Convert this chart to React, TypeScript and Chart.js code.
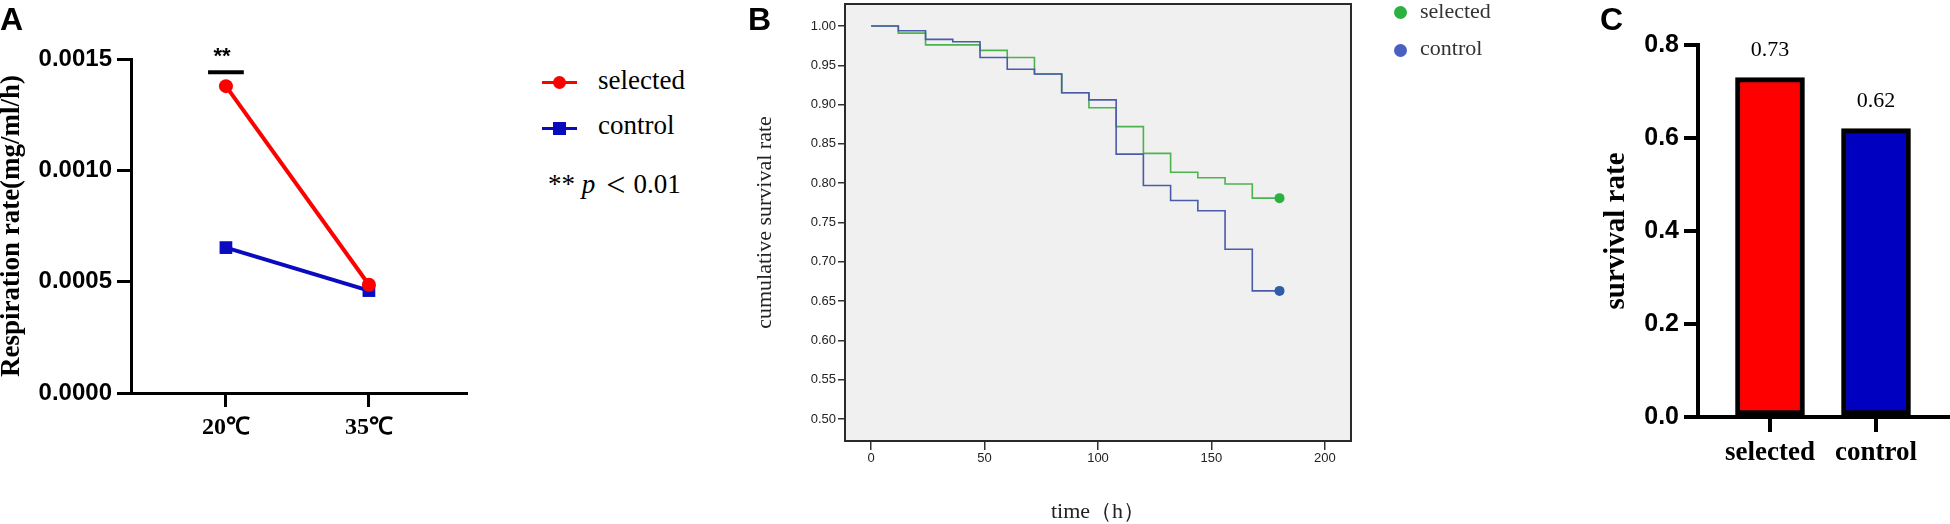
import { useEffect, useRef } from "react";
import { Chart, registerables } from "chart.js";
Chart.register(...registerables);

const SERIF = '"Liberation Serif", "Times New Roman", serif';
const SANS = '"Liberation Sans", Arial, sans-serif';

// panel A: respiration rate
const tempLabels = ["20℃", "35℃"];
const selectedRate = [0.001378, 0.000486];
const controlRate = [0.000653, 0.00046];
const rateTicks = [0, 0.0005, 0.001, 0.0015];
const sigMark = "**";
const sigLevel = 0.00144;

// panel B: Kaplan-Meier survival
const hours = [0, 12, 24, 36, 48, 60, 72, 84, 96, 108, 120, 132, 144, 156, 168, 180];
const selectedSurv = [1.0, 0.991, 0.976, 0.976, 0.969, 0.96, 0.939, 0.915, 0.896, 0.872, 0.838, 0.814, 0.807, 0.799, 0.781, 0.781];
const controlSurv = [1.0, 0.994, 0.983, 0.98, 0.96, 0.945, 0.939, 0.915, 0.906, 0.837, 0.797, 0.778, 0.765, 0.716, 0.663, 0.663];
const survTicks = [0.5, 0.55, 0.6, 0.65, 0.7, 0.75, 0.8, 0.85, 0.9, 0.95, 1.0];
const hourTicks = [0, 50, 100, 150, 200];

// panel C: final survival
const groups = ["selected", "control"];
const survivalRate = [0.73, 0.62];
const barTicks = [0, 0.2, 0.4, 0.6, 0.8];

const RED = "#ff0000";
const BLUE = "#0a0ac0";

function useChart(make: (ctx: CanvasRenderingContext2D) => Chart) {
  const ref = useRef<HTMLCanvasElement | null>(null);
  useEffect(() => {
    if (!ref.current) return;
    const ctx = ref.current.getContext("2d");
    if (!ctx) return;
    const chart = make(ctx);
    return () => chart.destroy();
  }, []);
  return ref;
}

function RespirationChart() {
  const ref = useChart((ctx) =>
    new Chart(ctx, {
      type: "line",
      data: {
        datasets: [
          {
            label: "selected",
            data: selectedRate.map((y, i) => ({ x: i, y })),
            borderColor: RED,
            backgroundColor: RED,
            borderWidth: 4,
            pointStyle: "circle",
            pointRadius: 7,
            pointBorderWidth: 0,
          },
          {
            label: "control",
            data: controlRate.map((y, i) => ({ x: i, y })),
            borderColor: BLUE,
            backgroundColor: BLUE,
            borderWidth: 4,
            pointStyle: "rect",
            pointRadius: 9,
            pointBorderWidth: 0,
          },
        ],
      },
      options: {
        responsive: false,
        animation: false,
        layout: { padding: { top: 59, right: 14, left: 0, bottom: 0 } },
        plugins: { legend: { display: false }, tooltip: { enabled: false } },
        scales: {
          x: {
            type: "linear",
            min: -0.664,
            max: 1.679,
            afterBuildTicks: (s: any) => { s.ticks = tempLabels.map((_, i) => ({ value: i })); },
            afterFit: (s: any) => { s.height = 131; },
            ticks: {
              callback: (v: any) => tempLabels[v] ?? "",
              font: { family: SERIF, size: 24, weight: "bold" },
              color: "#000",
              padding: 6,
              maxRotation: 0,
            },
            grid: { drawOnChartArea: false, tickLength: 14, lineWidth: 3, color: "#000" },
            border: { display: true, width: 3, color: "#000" },
          },
          y: {
            min: 0,
            max: 0.0015,
            afterBuildTicks: (s: any) => { s.ticks = rateTicks.map((value) => ({ value })); },
            afterFit: (s: any) => { s.width = 131; },
            ticks: {
              callback: (v: any) => Number(v).toFixed(4),
              font: { family: SANS, size: 24, weight: "bold" },
              color: "#000",
              padding: 5,
            },
            grid: { drawOnChartArea: false, tickLength: 14, lineWidth: 3, color: "#000" },
            border: { display: true, width: 3, color: "#000" },
            title: {
              display: true,
              text: "Respiration rate(mg/ml/h)",
              font: { family: SERIF, size: 27, weight: "bold", lineHeight: 1 },
              color: "#000",
              padding: { top: -1, bottom: 0 },
            },
          },
        },
      },
      plugins: [
        {
          id: "sigBar",
          afterDraw(chart: any) {
            const c = chart.ctx;
            const x = chart.scales.x;
            const y = chart.scales.y.getPixelForValue(sigLevel);
            const x0 = x.getPixelForValue(-0.125);
            const x1 = x.getPixelForValue(0.125);
            c.save();
            c.strokeStyle = "#000";
            c.lineWidth = 4;
            c.beginPath();
            c.moveTo(x0, y);
            c.lineTo(x1, y);
            c.stroke();
            c.fillStyle = "#000";
            c.font = `bold 22px ${SANS}`;
            c.textAlign = "center";
            c.textBaseline = "middle";
            c.fillText(sigMark, x.getPixelForValue(0) - 4, y - 15);
            c.restore();
          },
        },
      ],
    } as any)
  );
  return <canvas ref={ref} width={480} height={524} style={{ position: "absolute", left: 0, top: 0 }} />;
}

function SurvivalCurve() {
  const last = hours.length - 1;
  const ref = useChart((ctx) =>
    new Chart(ctx, {
      type: "line",
      data: {
        datasets: [
          {
            label: "control",
            data: controlSurv.map((y, i) => ({ x: hours[i], y })),
            borderColor: "#4a5bab",
            backgroundColor: "#2d5da6",
            borderWidth: 1.6,
            stepped: true,
            pointRadius: (c: any) => (c.dataIndex === last ? 5 : 0),
            pointBorderWidth: 0,
          },
          {
            label: "selected",
            data: selectedSurv.map((y, i) => ({ x: hours[i], y })),
            borderColor: "#4cb34f",
            backgroundColor: "#2cb040",
            borderWidth: 1.6,
            stepped: true,
            pointRadius: (c: any) => (c.dataIndex === last ? 5 : 0),
            pointBorderWidth: 0,
          },
        ],
      },
      options: {
        responsive: false,
        animation: false,
        layout: { padding: { top: 24, right: 49, left: 0, bottom: 0 } },
        plugins: { legend: { display: false }, tooltip: { enabled: false } },
        scales: {
          x: {
            type: "linear",
            min: -11.5,
            max: 211.5,
            afterBuildTicks: (s: any) => { s.ticks = hourTicks.map((value) => ({ value })); },
            afterFit: (s: any) => { s.height = 83; },
            ticks: { font: { family: SANS, size: 13 }, color: "#222", padding: 1, maxRotation: 0 },
            grid: { drawOnChartArea: false, tickLength: 9, lineWidth: 1.5, color: "#333" },
            border: { display: false },
            title: {
              display: true,
              text: "time（h）",
              font: { family: SERIF, size: 22 },
              color: "#222",
              padding: { top: 0, bottom: -1 },
            },
          },
          y: {
            min: 0.472,
            max: 1.028,
            afterBuildTicks: (s: any) => { s.ticks = survTicks.map((value) => ({ value })); },
            afterFit: (s: any) => { s.width = 145; },
            ticks: {
              callback: (v: any) => Number(v).toFixed(2),
              font: { family: SANS, size: 13 },
              color: "#222",
              padding: 2,
            },
            grid: { drawOnChartArea: false, tickLength: 7, lineWidth: 1.5, color: "#333" },
            border: { display: false },
            title: {
              display: true,
              text: "cumulative survival rate",
              font: { family: SERIF, size: 22 },
              color: "#222",
              padding: { top: 52, bottom: 0 },
            },
          },
        },
      },
      plugins: [
        {
          id: "panelBox",
          beforeDraw(chart: any) {
            const { ctx: c, chartArea: a } = chart;
            c.save();
            c.fillStyle = "#f0f0f0";
            c.fillRect(a.left, a.top, a.right - a.left, a.bottom - a.top);
            c.restore();
          },
          afterDraw(chart: any) {
            const { ctx: c, chartArea: a } = chart;
            c.save();
            c.strokeStyle = "#2a2a2a";
            c.lineWidth = 2;
            c.strokeRect(a.left, a.top, a.right - a.left, a.bottom - a.top);
            c.restore();
          },
        },
      ],
    } as any)
  );
  return <canvas ref={ref} width={700} height={544} style={{ position: "absolute", left: 700, top: -20 }} />;
}

function SurvivalBars() {
  const ref = useChart((ctx) =>
    new Chart(ctx, {
      type: "bar",
      data: {
        datasets: [
          {
            label: "survival rate",
            data: survivalRate.map((y, i) => ({ x: i, y })),
            backgroundColor: [RED, "#0000c0"],
            borderColor: "#000",
            borderWidth: 5,
            borderSkipped: false,
            barThickness: 69,
          },
        ],
      },
      options: {
        responsive: false,
        animation: false,
        layout: { padding: { top: 45, right: 0, left: 0, bottom: 0 } },
        plugins: { legend: { display: false }, tooltip: { enabled: false } },
        scales: {
          x: {
            type: "linear",
            offset: false,
            min: -0.679,
            max: 1.698,
            afterBuildTicks: (s: any) => { s.ticks = groups.map((_, i) => ({ value: i })); },
            afterFit: (s: any) => { s.height = 107; },
            ticks: {
              callback: (v: any) => groups[v] ?? "",
              font: { family: SERIF, size: 27, weight: "bold" },
              color: "#000",
              padding: 5,
              maxRotation: 0,
            },
            grid: { drawOnChartArea: false, tickLength: 15, lineWidth: 4, color: "#000", offset: false },
            border: { display: true, width: 4, color: "#000" },
          },
          y: {
            min: 0,
            max: 0.8,
            afterBuildTicks: (s: any) => { s.ticks = barTicks.map((value) => ({ value })); },
            afterFit: (s: any) => { s.width = 138; },
            ticks: {
              callback: (v: any) => Number(v).toFixed(1),
              font: { family: SANS, size: 25, weight: "bold" },
              color: "#000",
              padding: 5,
            },
            grid: { drawOnChartArea: false, tickLength: 14, lineWidth: 4, color: "#000" },
            border: { display: true, width: 4, color: "#000" },
            title: {
              display: true,
              text: "survival rate",
              font: { family: SERIF, size: 29, weight: "bold", lineHeight: 1 },
              color: "#000",
              padding: { top: 42, bottom: 0 },
            },
          },
        },
      },
      plugins: [
        {
          id: "valueLabels",
          afterDatasetsDraw(chart: any) {
            const c = chart.ctx;
            const meta = chart.getDatasetMeta(0);
            c.save();
            c.font = `22px ${SERIF}`;
            c.fillStyle = "#000";
            c.textAlign = "center";
            c.textBaseline = "middle";
            meta.data.forEach((bar: any, i: number) => {
              c.fillText(survivalRate[i].toFixed(2), bar.x, bar.y - 27);
            });
            c.restore();
          },
        },
      ],
    } as any)
  );
  return <canvas ref={ref} width={390} height={524} style={{ position: "absolute", left: 1560, top: 0 }} />;
}

const abs = (left: number, top: number, extra: any = {}) => ({ position: "absolute" as const, left, top, whiteSpace: "nowrap" as const, ...extra });

export default function App() {
  const panelLetter = { font: `bold 32px ${SANS}`, lineHeight: "32px" };
  const legA = { font: `27px ${SERIF}`, lineHeight: "30px", color: "#000" };
  const legB = { font: `22px ${SERIF}`, lineHeight: "26px", color: "#333" };
  return (
    <div style={{ position: "absolute", left: 0, top: 0, width: 1950, height: 524, background: "#fff", overflow: "hidden" }}>
      <RespirationChart />
      <SurvivalCurve />
      <SurvivalBars />

      <div style={abs(0, 3, panelLetter)}>A</div>
      <div style={abs(748, 3, panelLetter)}>B</div>
      <div style={abs(1600, 3, panelLetter)}>C</div>

      {/* legend A */}
      <div style={abs(542, 80.5, { width: 35, height: 3, background: RED })} />
      <div style={abs(552.5, 75.5, { width: 13, height: 13, borderRadius: "50%", background: RED })} />
      <div style={abs(598, 65, legA)}>selected</div>
      <div style={abs(542, 126.5, { width: 35, height: 3, background: BLUE })} />
      <div style={abs(552.5, 121.5, { width: 13, height: 13, background: BLUE })} />
      <div style={abs(598, 110, legA)}>control</div>
      <div style={abs(548, 167, legA)}>
        ** <i>p</i>
        <span style={{ fontSize: 34, margin: "0 8px 0 11px", position: "relative", top: 3 }}>&lt;</span>0.01
      </div>

      {/* legend B */}
      <div style={abs(1393.5, 5.5, { width: 13, height: 13, borderRadius: "50%", background: "#2cb040" })} />
      <div style={abs(1420, -2, legB)}>selected</div>
      <div style={abs(1393.5, 43.5, { width: 13, height: 13, borderRadius: "50%", background: "#4a5fc0" })} />
      <div style={abs(1420, 35, legB)}>control</div>
    </div>
  );
}
